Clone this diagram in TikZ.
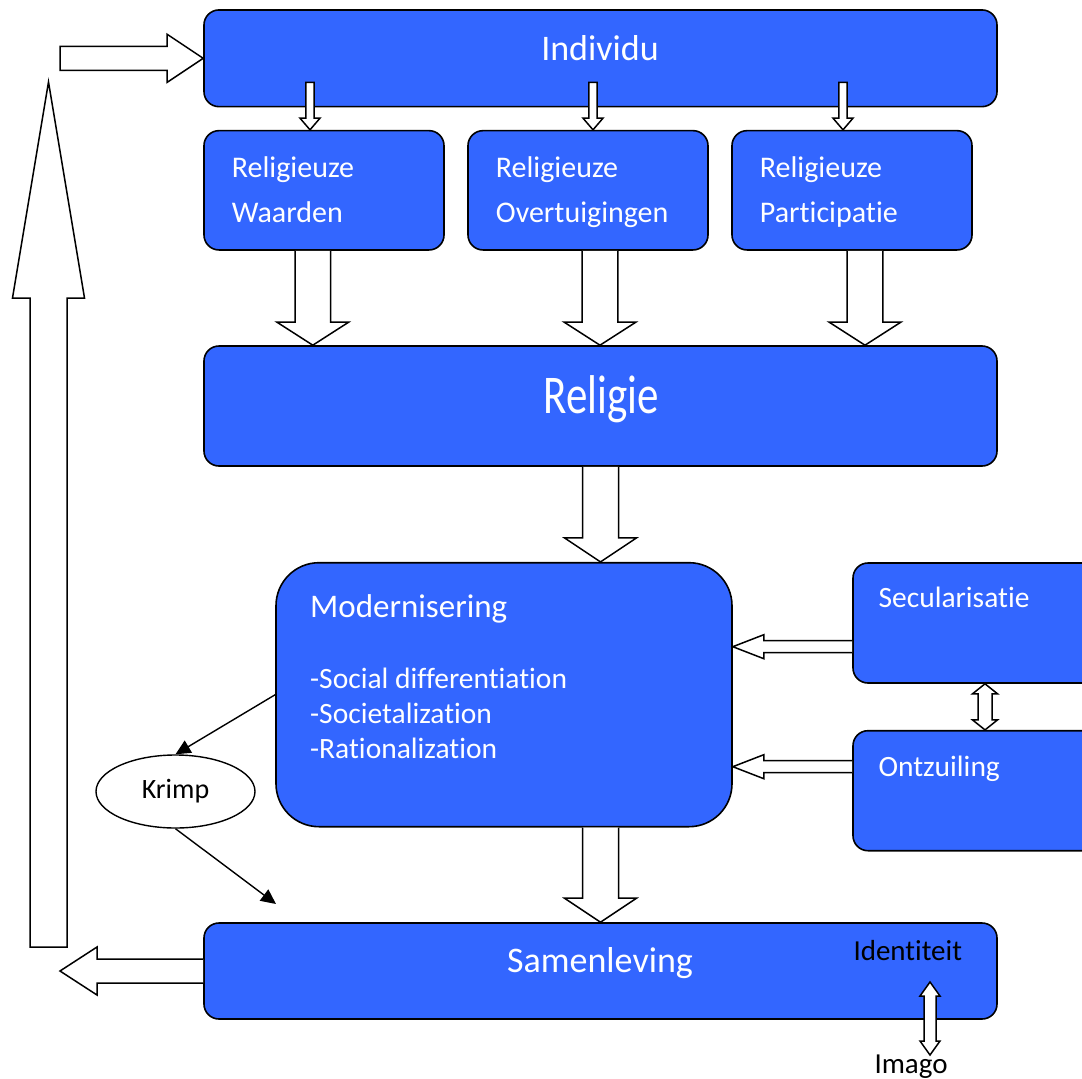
\documentclass[tikz,border=0pt]{standalone}
\usepackage{fontspec}
\setmainfont{Carlito}[Ligatures=NoCommon]
\usepackage{xcolor}
\usepackage{graphicx}
\usetikzlibrary{calc,positioning,shapes.geometric,arrows.meta}
\definecolor{boxblue}{HTML}{3366FF}
\tikzset{
	box/.style={draw=black, fill=boxblue, line width=1.6pt, rounded corners=15pt},
	boxtext/.style={text=white, inner sep=0pt, align=left},
	plaintext/.style={text=black, inner sep=0pt},
	hollow/.style={draw=black, fill=white, line width=1.5pt, line join=miter},
	pointer/.style={line width=1.4pt, -{Triangle[length=15pt, width=14pt]}}
}
% block arrow: from, to, shaft half width, head half width, head length, tail
\newcommand{\blockarrow}[6]{%
	\coordinate (hb) at ($(#2)!#5!(#1)$);
	\draw[hollow] ($(#1)!#3!90:(#2)$) -- ($(hb)!#3!90:(#2)$) -- ($(hb)!#4!90:(#2)$) -- (#2)
		-- ($(hb)!#4!-90:(#2)$) -- ($(hb)!#3!-90:(#2)$) -- ($(#1)!#3!-90:(#2)$) #6;
}
% block arrow with a head at both ends
\newcommand{\twowayarrow}[5]{%
	\coordinate (ha) at ($(#1)!#5!(#2)$);
	\coordinate (hb) at ($(#2)!#5!(#1)$);
	\draw[hollow] (#1) -- ($(ha)!#4!90:(#2)$) -- ($(ha)!#3!90:(#2)$) -- ($(hb)!#3!90:(#2)$)
		-- ($(hb)!#4!90:(#2)$) -- (#2) -- ($(hb)!#4!-90:(#2)$) -- ($(hb)!#3!-90:(#2)$)
		-- ($(ha)!#3!-90:(#2)$) -- ($(ha)!#4!-90:(#2)$) -- cycle;
}

\begin{document}
\begin{tikzpicture}[x=1pt, y=-1pt]
	\useasboundingbox (0,0) rectangle (1082,1079);

	% boxes
	\node[box, minimum width=793pt, minimum height=96.7pt] (indiv) at (600.5,58.3) {};
	\node[box, minimum width=240pt, minimum height=119.3pt] (waard) at (324,190.3) {};
	\node[box, minimum width=240pt, minimum height=119.3pt] (overt) at (588,190.3) {};
	\node[box, minimum width=240pt, minimum height=119.3pt] (partic) at (852,190.3) {};
	\node[box, minimum width=793pt, minimum height=120pt] (reli) at (600.5,406) {};
	\node[box, rounded corners=43pt, minimum width=456pt, minimum height=264pt] (mod) at (504,694.7) {};
	\node[box, minimum width=247pt, minimum height=120pt] (secu) at (976.5,623) {};
	\node[box, minimum width=247pt, minimum height=120pt] (ontz) at (976.5,790.7) {};
	\node[box, minimum width=793pt, minimum height=96pt] (sam) at (600.5,971) {};
	\node[ellipse, draw=black, fill=white, line width=1.4pt, minimum width=159pt, minimum height=73pt,
		font=\fontsize{28}{32}\selectfont] (krimp) at (175.5,791.5) {Krimp\hspace{12pt}};

	% texts
	\node[boxtext, anchor=base, font=\fontsize{36}{43}\selectfont] (indivlbl) at (600,60) {Individu};
	\node[boxtext, anchor=base west, font=\fontsize{30}{45}\selectfont] (waardlbl) at (231.7,222.3) {Religieuze\\Waarden};
	\node[boxtext, anchor=base west, font=\fontsize{30}{45}\selectfont] (overtlbl) at (495.7,222.3) {Religieuze\\Overtuigingen};
	\node[boxtext, anchor=base west, font=\fontsize{30}{45}\selectfont] (particlbl) at (759.7,222.3) {Religieuze\\Participatie};
	\node[boxtext, anchor=base, font=\fontsize{43}{50}\selectfont] (relilbl) at (601,413.3) {\scalebox{1}[1.27]{Religie}};
	\node[boxtext, anchor=base west, font=\fontsize{29.5}{35}\selectfont] (modlbl) at (310,758.3)
		{{\fontsize{33}{35}\selectfont Modernisering}\\[36pt]-Social differentiation\\-Societalization\\-Rationalization};
	\node[boxtext, anchor=base west, font=\fontsize{29.5}{35}\selectfont] (seculbl) at (878.4,607) {Secularisatie};
	\node[boxtext, anchor=base west, font=\fontsize{29.5}{35}\selectfont] (ontzlbl) at (878.4,776) {Ontzuiling};
	\node[boxtext, anchor=base, font=\fontsize{36}{43}\selectfont] (samlbl) at (600,972.7) {Samenleving};
	\node[plaintext, anchor=base west, font=\fontsize{29}{35}\selectfont] (ident) at (853.3,960) {Identiteit};
	\node[plaintext, anchor=base west, font=\fontsize{29}{35}\selectfont] (imago) at (874.3,1073) {Imago};

	% arrows from Individu
	\coordinate (s1) at (310,82.3);
	\coordinate (s2) at (593,82.3);
	\coordinate (s3) at (843,82.3);
	\blockarrow{s1}{s1 |- waard.north}{4.2pt}{10pt}{11.7pt}{-- cycle}
	\blockarrow{s2}{s2 |- overt.north}{4.2pt}{10pt}{11.7pt}{-- cycle}
	\blockarrow{s3}{s3 |- partic.north}{4.2pt}{10pt}{11.7pt}{-- cycle}

	% arrows into Religie
	\coordinate (wa) at ([xshift=-11.2pt]waard.south);
	\coordinate (ov) at ([xshift=12pt]overt.south);
	\coordinate (pa) at ([xshift=13pt]partic.south);
	\blockarrow{wa}{wa |- reli.north}{17.8pt}{35.8pt}{23pt}{}
	\blockarrow{ov}{ov |- reli.north}{17.8pt}{35.8pt}{23pt}{}
	\blockarrow{pa}{pa |- reli.north}{17.8pt}{35.8pt}{23pt}{}

	% down the middle
	\blockarrow{reli.south}{reli.south |- mod.north}{18pt}{36pt}{24pt}{}
	\coordinate (ms) at (sam.north |- mod.south);
	\blockarrow{ms}{sam.north}{18pt}{36pt}{24pt}{}

	% from the right
	\coordinate (sa) at ([yshift=-23.7pt]secu.west);
	\coordinate (oa) at ([yshift=24pt]ontz.west);
	\blockarrow{sa}{sa -| mod.east}{6pt}{12pt}{31pt}{}
	\blockarrow{oa}{oa -| mod.east}{6pt}{12pt}{31pt}{}
	\coordinate (so) at ([xshift=8.5pt]secu.south);
	\twowayarrow{so}{so |- ontz.north}{7pt}{12.5pt}{10pt}

	% Krimp
	\coordinate (krimpend) at (276,904);
	\draw[pointer] (mod.west) -- (krimp.north);
	\draw[pointer] (krimp.south) -- (krimpend);

	% feedback loop
	\coordinate (samout) at (60,971);
	\coordinate (upfoot) at (48.5,947);
	\coordinate (uptip) at (48.5,82);
	\coordinate (intail) at (60,58.3);
	\blockarrow{sam.west}{samout}{12pt}{24pt}{37pt}{}
	\blockarrow{upfoot}{uptip}{18.5pt}{36pt}{216pt}{-- cycle}
	\blockarrow{intail}{indiv.west}{12pt}{24pt}{36pt}{-- cycle}

	% Identiteit - Imago
	\coordinate (idtop) at (930,982);
	\coordinate (idbot) at (930,1055);
	\twowayarrow{idtop}{idbot}{6pt}{10pt}{14pt}
\end{tikzpicture}
\end{document}
